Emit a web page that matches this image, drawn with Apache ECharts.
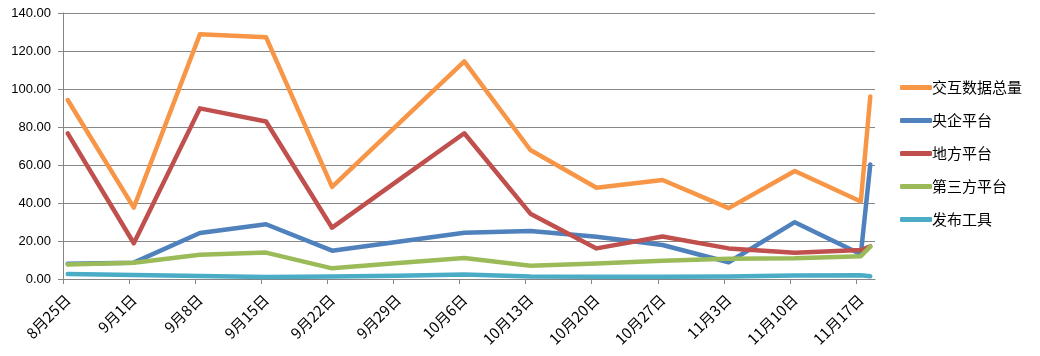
<!DOCTYPE html>
<html><head><meta charset="utf-8">
<script src="https://cdn.jsdelivr.net/npm/echarts@6/dist/echarts.min.js"></script>
<style>html,body{margin:0;padding:0;background:#fff}#c{width:1040px;height:356px}</style>
</head><body><div id="c"></div>
<script>
// weekly dates plus a final partial-week point
const dates = ['8月25日','9月1日','9月8日','9月15日','9月22日','9月29日','10月6日','10月13日','10月20日','10月27日','11月3日','11月10日','11月17日','11月18日'];
const tickLabels = ['8月25日','9月1日','9月8日','9月15日','9月22日','9月29日','10月6日','10月13日','10月20日','10月27日','11月3日','11月10日','11月17日'];
const seriesNames = ['交互数据总量','央企平台','地方平台','第三方平台','发布工具'];
const totalData   = [94.2, 37.6, 128.8, 127.3, 48.5, 81.5, 114.5, 67.9, 48.0, 52.1, 37.3, 56.8, 40.8, 96.0];
const centralData = [8.0, 8.6, 24.2, 28.8, 14.9, 19.6, 24.3, 25.3, 22.2, 17.9, 8.8, 29.9, 13.0, 60.3];
const localData   = [76.6, 18.8, 89.8, 82.9, 27.0, 51.9, 76.7, 34.4, 16.1, 22.4, 16.1, 13.8, 15.2, 17.2];
const thirdData   = [7.6, 8.6, 12.8, 13.9, 5.6, 8.4, 11.1, 7.0, 8.2, 9.6, 10.6, 10.9, 12.0, 17.0];
const toolData    = [2.6, 2.1, 1.6, 1.1, 1.3, 1.7, 2.4, 1.3, 1.2, 1.2, 1.3, 1.8, 2.0, 1.5];
const yMin = 0, yMax = 140, yStep = 20;
const colors = ['#F79646','#4F81BD','#C0504D','#9BBB59','#4BACC6'];

function dayIndex(s){
  const m = s.match(/(\d+)月(\d+)日/);
  return Date.UTC(2000, +m[1]-1, +m[2]) / 86400000;
}
const base = dayIndex(dates[0]);
const lastDay = dayIndex(dates[dates.length-1]) - base + 1;
const xs = dates.map(d => dayIndex(d) - base + 0.5);
const tickVals = tickLabels.map(d => dayIndex(d) - base);
const labelVals = tickVals.map(v => v + 0.5);
const labelMap = {};
tickLabels.forEach((t,i)=>labelMap[labelVals[i]] = t);

const allData = [totalData, centralData, localData, thirdData, toolData];
const fontCJK = '"Noto Sans CJK SC", "Noto Sans", sans-serif';

const chart = echarts.init(document.getElementById('c'), null, {renderer:'canvas'});
chart.setOption({
  animation:false,
  color: colors,
  grid:{left:63, right:165, top:13, bottom:77, containLabel:false},
  legend:{
    orient:'vertical', left:895, top:75, itemWidth:32, itemHeight:5, itemGap:18,
    icon:'roundRect',
    textStyle:{fontFamily:fontCJK, fontSize:15, color:'#000', padding:[0,0,0,-5]},
    data: seriesNames
  },
  xAxis:{
    type:'value', min:0, max:lastDay,
    axisLine:{show:true, lineStyle:{color:'#868686', width:1}},
    axisTick:{show:true, length:5, lineStyle:{color:'#868686'}, customValues: tickVals},
    splitLine:{show:false},
    axisLabel:{
      customValues: labelVals, rotate:45, fontFamily:fontCJK, fontSize:15, color:'#000', margin:18,
      formatter: v => labelMap[v] || ''
    }
  },
  yAxis:{
    type:'value', min:yMin, max:yMax, interval:yStep,
    axisLine:{show:true, lineStyle:{color:'#868686'}},
    axisTick:{show:true, length:5, inside:false, lineStyle:{color:'#868686'}},
    splitLine:{show:true, lineStyle:{color:'#868686', width:1}},
    axisLabel:{fontFamily:'"Liberation Sans", Arial, sans-serif', fontSize:13, color:'#000', margin:12,
      formatter: v => v.toFixed(2)}
  },
  series: seriesNames.map((n,i)=>({
    name:n, type:'line', showSymbol:false, symbol:'none',
    lineStyle:{width:4.5, color:colors[i], cap:'round', join:'round'},
    data: xs.map((x,j)=>[x, allData[i][j]])
  }))
});
</script></body></html>
